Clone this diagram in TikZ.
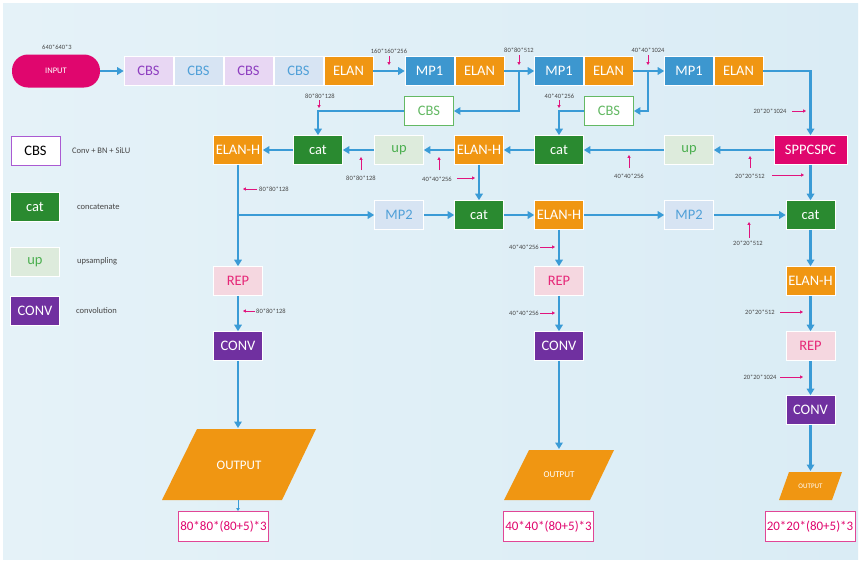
\documentclass[tikz,border=0pt]{standalone}
\usepackage{fontspec}
\setmainfont{Carlito}
\usetikzlibrary{arrows.meta}
\definecolor{bgA}{RGB}{229,242,248}
\definecolor{bgB}{RGB}{218,236,245}
\definecolor{orangeC}{RGB}{240,150,18}
\definecolor{mpblue}{RGB}{61,151,207}
\definecolor{catgreen}{RGB}{42,138,48}
\definecolor{magentaC}{RGB}{224,6,110}
\definecolor{convpurple}{RGB}{112,48,160}
\definecolor{cbsPF}{RGB}{232,215,243}
\definecolor{cbsPT}{RGB}{142,62,192}
\definecolor{cbsBF}{RGB}{215,228,243}
\definecolor{cbsBT}{RGB}{80,160,216}
\definecolor{upF}{RGB}{221,235,220}
\definecolor{upT}{RGB}{76,175,80}
\definecolor{repF}{RGB}{245,215,224}
\definecolor{repT}{RGB}{230,40,120}
\definecolor{cbsG}{RGB}{100,185,100}
\definecolor{flowC}{RGB}{58,155,214}
\definecolor{lblC}{RGB}{70,70,70}
\definecolor{annC}{RGB}{225,20,125}
\definecolor{resB}{RGB}{225,70,150}
\definecolor{legP}{RGB}{170,90,210}
\newcommand\bxfont{\fontsize{14.5}{14.5}\selectfont}
\newcommand\lblfont{\fontsize{6.5}{6.5}\selectfont}
\newcommand\legfont{\fontsize{8.5}{8.5}\selectfont}
\begin{document}
\begin{tikzpicture}[x=1pt,y=-1pt,
  blk/.style={draw=white,line width=0.6pt,minimum width=49pt,minimum height=29pt,inner sep=0pt,font=\bxfont},
  orangebox/.style={blk,fill=orangeC,text=white},
  mpbox/.style={blk,fill=mpblue,text=white},
  catbox/.style={blk,fill=catgreen,text=white},
  upbox/.style={blk,fill=upF,text=upT},
  repbox/.style={blk,fill=repF,text=repT},
  convbox/.style={blk,fill=convpurple,text=white},
  mp2box/.style={blk,fill=cbsBF,text=cbsBT},
  cbsP/.style={blk,fill=cbsPF,text=cbsPT},
  cbsBl/.style={blk,fill=cbsBF,text=cbsBT},
  cbsW/.style={blk,draw=cbsG,line width=0.9pt,fill=white,text=cbsG},
  resbox/.style={draw=resB,line width=0.9pt,fill=white,text=magentaC,minimum width=90pt,minimum height=30pt,inner sep=0pt,font=\fontsize{13}{13}\selectfont},
  outtxt/.style={text=white,inner sep=0pt},
  flow/.style={draw=flowC,line width=2.2pt,-{Triangle[length=6.5pt,width=7.5pt]}},
  thinflow/.style={draw=flowC,line width=0.9pt,-{Triangle[length=3pt,width=3.5pt]}},
  ann/.style={draw=annC,line width=0.8pt,-{Triangle[length=2.8pt,width=3pt]}},
  lbl/.style={text=lblC,font=\lblfont,inner sep=0pt},
  legtxt/.style={text=lblC,font=\legfont,inner sep=0pt,anchor=west}
]
% background
\useasboundingbox (0,0) rectangle (861,562);
\fill[white] (0,0) rectangle (861,562);
\shade[left color=bgA,right color=bgB] (3,3) rectangle (858,559);

% ---- top row ----
\node[draw=none,fill=magentaC,text=white,rounded corners=16pt,minimum width=88pt,minimum height=33pt,inner sep=0pt,font=\fontsize{8.5}{8.5}\selectfont] (input) at (56,71) {INPUT};
\node[cbsP] (cbs1) at (148.5,71) {CBS};
\node[cbsBl] (cbs2) at (198.5,71) {CBS};
\node[cbsP] (cbs3) at (248.5,71) {CBS};
\node[cbsBl] (cbs4) at (298.5,71) {CBS};
\node[orangebox] (elan1) at (348.5,71) {ELAN};
\node[mpbox] (mp1a) at (429.5,71) {MP1};
\node[orangebox] (elan2) at (479.5,71) {ELAN};
\node[mpbox] (mp1b) at (559,71) {MP1};
\node[orangebox] (elan3) at (608.5,71) {ELAN};
\node[mpbox] (mp1c) at (689,71) {MP1};
\node[orangebox] (elan4) at (738.5,71) {ELAN};
\node[cbsW] (cbsA) at (429,111) {CBS};
\node[cbsW] (cbsB) at (609,111) {CBS};

% ---- row 2 ----
\node[orangebox] (elanh1) at (238,150) {ELAN-H};
\node[catbox] (cat1) at (318,150) {cat};
\node[upbox] (up1) at (399,150) {up};
\node[orangebox] (elanh2) at (479,150) {ELAN-H};
\node[catbox] (cat2) at (559,150) {cat};
\node[upbox] (up2) at (689,150) {up};
\node[blk,fill=magentaC,text=white,minimum width=73pt] (spp) at (810.5,150) {SPPCSPC};

% ---- row 3 ----
\node[mp2box] (mp2a) at (399,215) {MP2};
\node[catbox] (cat3) at (479,215) {cat};
\node[orangebox] (elanh3) at (559,215) {ELAN-H};
\node[mp2box] (mp2b) at (689,215) {MP2};
\node[catbox] (cat4) at (810.5,215) {cat};

% ---- columns ----
\node[repbox] (rep1) at (238,281) {REP};
\node[convbox] (conv1) at (238,346) {CONV};
\node[repbox] (rep2) at (559,281) {REP};
\node[convbox] (conv2) at (559,346) {CONV};
\node[orangebox] (elanh4) at (810.5,281) {ELAN-H};
\node[repbox] (rep3) at (810.5,346) {REP};
\node[convbox] (conv3) at (810.5,410) {CONV};

% outputs
\fill[orangeC] (197,429) -- (316,429) -- (282,500) -- (162,500) -- cycle;
\node[outtxt,font=\fontsize{13}{13}\selectfont] (out1) at (239,465) {OUTPUT};
\coordinate (out1top) at (238,428);
\coordinate (out1bot) at (238,500);
\fill[orangeC] (529,450) -- (614,450) -- (590,500) -- (504,500) -- cycle;
\node[outtxt,font=\fontsize{9}{9}\selectfont] (out2) at (559,475) {OUTPUT};
\coordinate (out2top) at (559,449);
\fill[orangeC] (789,472) -- (842,472) -- (832,500) -- (779,500) -- cycle;
\node[outtxt,font=\fontsize{7}{7}\selectfont] (out3) at (810.5,486) {OUTPUT};
\coordinate (out3top) at (810.5,471);

\node[resbox] (res1) at (223.5,526.5) {80*80*(80+5)*3};
\node[resbox] (res2) at (548.5,526.5) {40*40*(80+5)*3};
\node[resbox] (res3) at (810,526.5) {20*20*(80+5)*3};

% ---- legend ----
\node[blk,draw=legP,line width=0.9pt,fill=white,text=black] (lcbs) at (35.5,151) {CBS};
\node[legtxt] (lcbst) at (72,151) {Conv + BN + SiLU};
\node[catbox] (lcat) at (35,207) {cat};
\node[legtxt] (lcatt) at (77,207) {concatenate};
\node[upbox] (lup) at (35,262) {up};
\node[legtxt] (lupt) at (77,261) {upsampling};
\node[convbox] (lconv) at (35,311) {CONV};
\node[legtxt] (lconvt) at (76,311) {convolution};

% ---- connectors ----
\draw[flow] (input) -- (cbs1);
\draw[flow] (elan1) -- (mp1a);
\draw[flow] (elan2) -- (mp1b);
\draw[flow] (elan3) -- (mp1c);
\coordinate (j1) at (519,71);
\coordinate (j2) at (648,71);
\draw[flow] (j1) |- (cbsA.east);
\draw[flow] (j2) |- (cbsB.east);
\draw[flow] (cbsA.west) -| (cat1.north);
\draw[flow] (cbsB.west) -| (cat2.north);
\draw[flow] (elan4.east) -| (spp.north);
\draw[flow] (spp) -- (up2);
\draw[flow] (up2) -- (cat2);
\draw[flow] (cat2) -- (elanh2);
\draw[flow] (elanh2) -- (up1);
\draw[flow] (up1) -- (cat1);
\draw[flow] (cat1) -- (elanh1);
\draw[flow] (elanh2) -- (cat3);
\draw[flow] (elanh1) -- (rep1);
\coordinate (j3) at (238,215);
\draw[flow] (j3) -- (mp2a);
\draw[flow] (mp2a) -- (cat3);
\draw[flow] (cat3) -- (elanh3);
\draw[flow] (elanh3) -- (mp2b);
\draw[flow] (mp2b) -- (cat4);
\draw[flow] (spp) -- (cat4);
\draw[flow] (rep1) -- (conv1);
\draw[flow] (conv1) -- (out1top);
\draw[thinflow] (out1bot) -- (res1.north -| out1bot);
\draw[flow] (elanh3) -- (rep2);
\draw[flow] (rep2) -- (conv2);
\draw[flow] (conv2) -- (out2top);
\draw[flow] (cat4) -- (elanh4);
\draw[flow] (elanh4) -- (rep3);
\draw[flow] (rep3) -- (conv3);
\draw[flow] (conv3) -- (out3top);

% ---- size annotations ----
\node[lbl] (a1) at (57,47) {640*640*3};
\node[lbl] (a2) at (389,51) {160*160*256};
\draw[ann] (389,56) -- (389,65);
\node[lbl] (a3) at (519,50) {80*80*512};
\draw[ann] (519,55) -- (519,65);
\node[lbl] (a4) at (648,50) {40*40*1024};
\draw[ann] (648,55) -- (648,65);
\node[lbl] (a5) at (320,96) {80*80*128};
\draw[ann] (319,100) -- (319,108);
\node[lbl] (a6) at (559.5,96) {40*40*256};
\draw[ann] (559,100) -- (559,108);
\node[lbl] (a7) at (770,111) {20*20*1024};
\draw[ann] (792,111) -- (806,111);
\node[lbl] (a8) at (361,178) {80*80*128};
\draw[ann] (361,170) -- (361,157);
\node[lbl] (a9) at (437,179) {40*40*256};
\draw[ann] (439,170) -- (439,157);
\draw[ann] (457,178) -- (475,178);
\node[lbl] (a10) at (629,176) {40*40*256};
\draw[ann] (629,168) -- (629,155);
\node[lbl] (a11) at (750,176) {20*20*512};
\draw[ann] (750,168) -- (750,156);
\draw[ann] (772,175) -- (804,175);
\node[lbl] (a12) at (274,189) {80*80*128};
\draw[ann] (257,189) -- (243,189);
\node[lbl] (a13) at (748,243) {20*20*512};
\draw[ann] (749,238) -- (749,222);
\node[lbl] (a14) at (524,247) {40*40*256};
\draw[ann] (540,247) -- (555,247);
\node[lbl] (a15) at (271,311) {80*80*128};
\draw[ann] (255,311) -- (243,311);
\node[lbl] (a16) at (524,313) {40*40*256};
\draw[ann] (540,313) -- (555,313);
\node[lbl] (a17) at (760,312) {20*20*512};
\draw[ann] (780,312) -- (803,312);
\node[lbl] (a18) at (760,377) {20*20*1024};
\draw[ann] (780,377) -- (803,377);
\end{tikzpicture}
\end{document}
